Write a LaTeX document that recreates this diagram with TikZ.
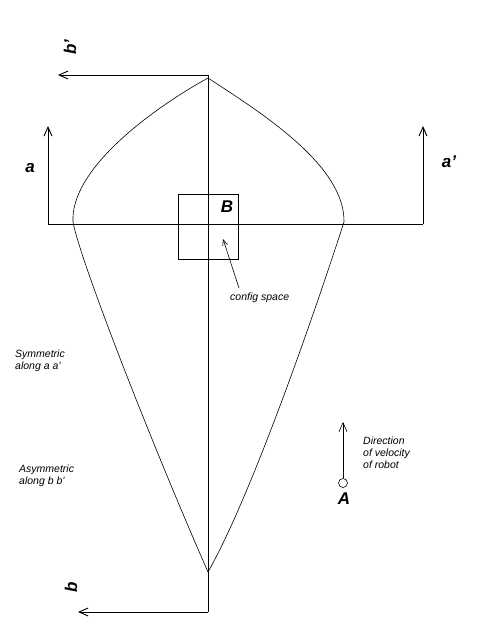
\documentclass[tikz,border=0pt]{standalone}
\usepackage{fontspec}
\setmainfont{Liberation Sans}
\usepackage{tikz}
\usetikzlibrary{positioning,arrows.meta,calc}
\tikzset{
  axis/.style={line width=0.9pt},
  outline/.style={line width=0.6pt},
  vec/.style={axis,-{Straight Barb[length=9pt,width=8pt]}},
  pointer/.style={line width=0.6pt,-{Straight Barb[length=6pt,width=5pt]}},
  letter/.style={font=\fontsize{17}{17}\selectfont\bfseries\itshape,inner sep=0pt},
  note/.style={font=\fontsize{10.5}{12}\selectfont\itshape,align=left,anchor=west,inner sep=0pt},
}

\begin{document}
\begin{tikzpicture}[x=1pt,y=-1pt]
  \useasboundingbox (0,0) rectangle (487,634);
  % axes of the obstacle
  \coordinate (top) at (208,75);
  \coordinate (bot) at (208,612);
  \coordinate (bptip) at (58,75);
  \coordinate (btip) at (78,612);
  \coordinate (aleft) at (48,224);
  \coordinate (aright) at (423,224);
  \coordinate (atip) at (48,126);
  \coordinate (aptip) at (423,126);
  \draw[axis] (top) -- (bot);
  \draw[axis] (aleft) -- (aright);
  \draw[vec] (top) -- (bptip);
  \draw[vec] (bot) -- (btip);
  \draw[vec] (aleft) -- (atip);
  \draw[vec] (aright) -- (aptip);
  \node[letter,rotate=90] (bp) at (70,47) {b'};
  \node[letter,rotate=90] (b) at (71,587) {b};
  \node[letter] (a) at (30,168) {a};
  \node[letter] (ap) at (449,162) {a'};
  % obstacle outline
  \coordinate (apex) at (208,78);
  \coordinate (foot) at (208,572);
  \coordinate (west) at (73,222);
  \coordinate (east) at (344,222);
  \draw[outline] (apex) .. controls (150,110) and (70,170) .. (west)
    .. controls (80,260) and (150,440) .. (foot);
  \draw[outline] (apex) .. controls (260,112) and (345,165) .. (east)
    .. controls (335,250) and (260,480) .. (foot);
  % configuration space of B
  \node[draw,axis,minimum width=60pt,minimum height=65pt,inner sep=0pt] (cfg) at (208,226.5) {};
  \node[letter] (B) at (227,207) {B};
  \node[note] (cfgnote) at (230,298) {config space};
  \coordinate (cfgtail) at (239,288);
  \coordinate (cfgtip) at (223,239);
  \draw[pointer] (cfgtail) -- (cfgtip);
  % robot A
  \node[draw,circle,line width=0.6pt,minimum size=9pt,inner sep=0pt] (robot) at (343,483) {};
  \coordinate (vel) at (343,422);
  \draw[vec,line width=0.6pt] (robot) -- (vel);
  \node[letter] (A) at (344,499) {A};
  \node[note] (dir) at (363,453) {Direction\\of velocity\\of robot};
  % remarks
  \node[note] (sym) at (15,361) {Symmetric\\along a a'};
  \node[note] (asym) at (19,476) {Asymmetric\\along  b b'};
\end{tikzpicture}
\end{document}
